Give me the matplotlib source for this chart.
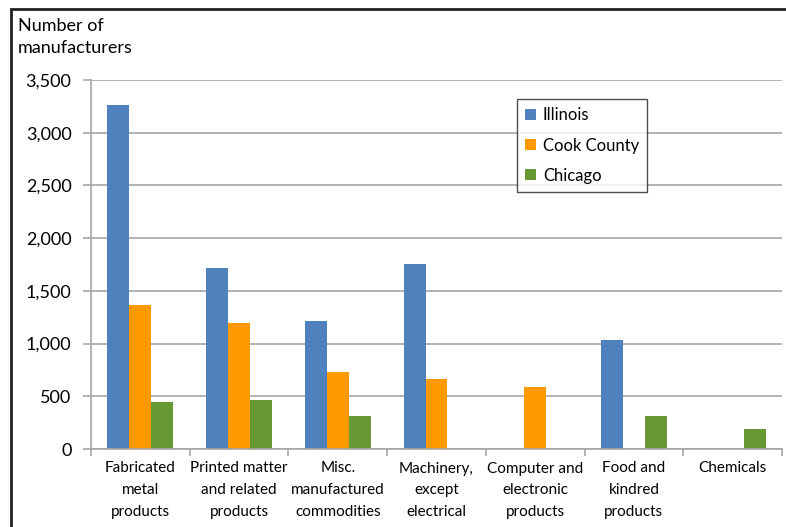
import numpy as np
import matplotlib.pyplot as plt
from matplotlib.patches import Rectangle

categories = ["Fabricated\nmetal\nproducts", "Printed matter\nand related\nproducts",
              "Misc.\nmanufactured\ncommodities", "Machinery,\nexcept\nelectrical",
              "Computer and\nelectronic\nproducts", "Food and\nkindred\nproducts", "Chemicals"]
illinois = [3260, 1720, 1215, 1755, 0, 1030, 0]
cook_county = [1365, 1195, 735, 665, 590, 0, 0]
chicago = [445, 465, 310, 0, 0, 315, 190]
series_names = ["Illinois", "Cook County", "Chicago"]
colors = ["#4F81BD", "#FF9900", "#669933"]
yticks = [0, 500, 1000, 1500, 2000, 2500, 3000, 3500]

plt.rcParams['font.family'] = ['Lato', 'DejaVu Sans']

fig = plt.figure(figsize=(7.86, 5.27), dpi=100)
ax = fig.add_axes([91 / 786, 1 - 449 / 527, 691 / 786, 369 / 527])

x = np.arange(len(categories))
w = 0.222
for i, (vals, name, c) in enumerate(zip([illinois, cook_county, chicago], series_names, colors)):
    ax.bar(x + (i - 1) * w, vals, w, color=c, label=name, zorder=3)

ax.set_xlim(-0.5, len(categories) - 0.5)
ax.set_ylim(0, 3500)
ax.set_yticks(yticks)
ax.set_yticklabels([f"{v:,}" for v in yticks], fontsize=13)
ax.yaxis.grid(True, color="#a6a6a6", linewidth=1.2, zorder=0)

# category labels centred, tick marks on the boundaries
ax.set_xticks(x)
ax.set_xticklabels(categories, fontsize=11, linespacing=1.7)
ax.tick_params(axis="x", length=0, pad=9)
ax.set_xticks(np.arange(len(categories) + 1) - 0.5, minor=True)
ax.tick_params(axis="x", which="minor", length=5, color="#a6a6a6", width=1.2)
ax.tick_params(axis="y", length=6, color="#a6a6a6", width=1.2, pad=8)

for side in ["top", "right"]:
    ax.spines[side].set_visible(False)
for side in ["left", "bottom"]:
    ax.spines[side].set_color("#a6a6a6")
    ax.spines[side].set_linewidth(1.2)
    ax.spines[side].set_zorder(4)

fig.text(18 / 786, 1 - 18 / 527, "Number of\nmanufacturers", fontsize=13,
         ha="left", va="top", linespacing=1.45)

leg = ax.legend(loc="upper left", bbox_to_anchor=((517 - 91) / 691, (449 - 99) / 369),
                fontsize=12, frameon=True, fancybox=False, handlelength=0.65,
                handleheight=0.65, handletextpad=0.4, labelspacing=0.85,
                borderpad=0.5, borderaxespad=0)
leg.get_frame().set_edgecolor("#222222")
leg.get_frame().set_linewidth(1.0)

# outer chart border
fig.patches.append(Rectangle((11 / 786, -0.1), 1.2, 1 - 9 / 527 + 0.1,
                             transform=fig.transFigure, fill=False,
                             edgecolor="#222222", linewidth=2, clip_on=False))

fig.savefig("out.png", dpi=100)
